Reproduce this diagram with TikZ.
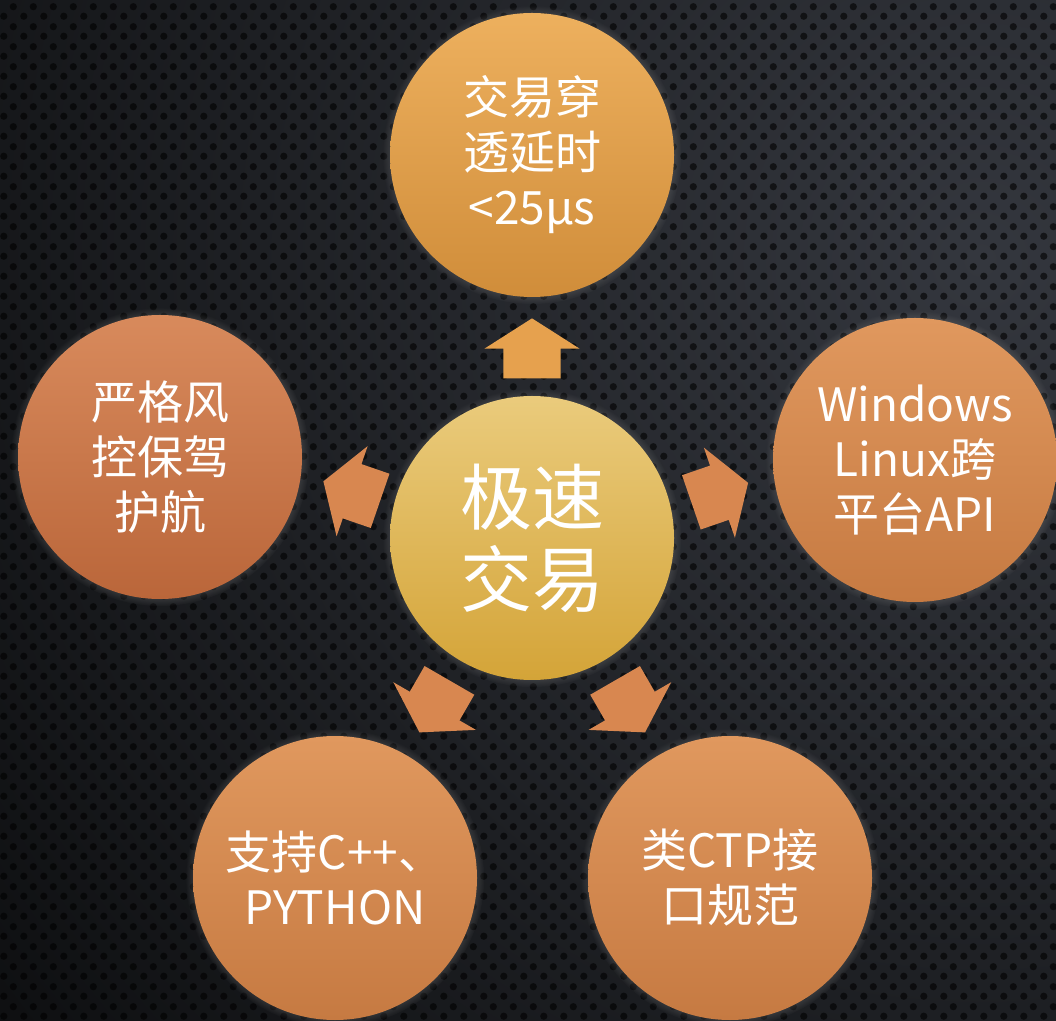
\documentclass[tikz,border=0pt]{standalone}
\usepackage{fontspec}
\usetikzlibrary{shapes.arrows,shadows,calc,patterns}
\newfontfamily\cjk{Noto Sans CJK SC}
\definecolor{bgdark}{RGB}{8,9,10}
\definecolor{bglight}{RGB}{52,55,62}
\definecolor{hubtop}{RGB}{234,203,124}
\definecolor{hubbot}{RGB}{212,164,56}
\definecolor{ambertop}{RGB}{237,176,94}
\definecolor{amberbot}{RGB}{208,141,58}
\definecolor{coraltop}{RGB}{224,152,94}
\definecolor{coralbot}{RGB}{198,122,66}
\definecolor{rusttop}{RGB}{216,138,92}
\definecolor{rustbot}{RGB}{186,102,58}
\definecolor{arrowgold}{RGB}{230,161,78}
\definecolor{arrowcoral}{RGB}{216,135,80}
\pgfdeclarepatternformonly{perforated}{\pgfqpoint{0pt}{0pt}}{\pgfqpoint{20pt}{20pt}}{\pgfqpoint{20pt}{20pt}}{%
  \pgfpathcircle{\pgfqpoint{5pt}{5pt}}{3.8pt}%
  \pgfpathcircle{\pgfqpoint{15pt}{15pt}}{3.8pt}%
  \pgfusepath{fill}}
\tikzset{bubble/.style={circle,minimum size=284pt,inner sep=0pt,align=center,text=white,
    font=\cjk\fontsize{46}{55}\selectfont,
    circular drop shadow={shadow xshift=0pt,shadow yshift=0pt,shadow scale=1.05,opacity=.7}},
  hubbubble/.style={bubble,top color=hubtop,bottom color=hubbot,font=\cjk\fontsize{72}{82}\selectfont},
  pointer/.style={single arrow,minimum height=60pt,inner xsep=0pt,inner ysep=28.5pt,
    single arrow head extend=19pt,single arrow tip angle=115}}

\begin{document}
\begin{tikzpicture}[x=1pt,y=1pt]
\fill[bgdark] (0,0) rectangle (1056,1020);
\begin{scope}
\clip (0,0) rectangle (1056,1020);
\shade[inner color=bglight,outer color=bgdark] (980,760) circle (1450);
\end{scope}
\fill[pattern=perforated,pattern color=black,fill opacity=.6] (0,0) rectangle (1056,1020);
\useasboundingbox (0,0) rectangle (1056,1020);

\node[hubbubble] (hub) at (532,482) {极速\\交易};
\node[bubble,top color=ambertop,bottom color=amberbot] (latency) at (532,865) {交易穿\\透延时\\<25μs};
\node[bubble,top color=coraltop,bottom color=coralbot] (crossplat) at (915,560) {Windows\\Linux跨\\平台API};
\node[bubble,top color=rusttop,bottom color=rustbot] (risk) at (160,563) {严格风\\控保驾\\护航};
\node[bubble,top color=coraltop,bottom color=coralbot] (pylang) at (335,142) {支持C++、\\PYTHON};
\node[bubble,top color=coraltop,bottom color=coralbot] (ctp) at (730,142) {类CTP接\\口规范};

\foreach \t/\a/\dx/\dy/\c in {latency/90/0/0/arrowgold,crossplat/19/-2/7/arrowcoral,
  risk/161/4/7/arrowcoral,pylang/-120/0/0/arrowcoral,ctp/-60/0/0/arrowcoral}
  \node[pointer,fill=\c,rotate=\a] (to\t) at ($($(hub)!.5!(\t)$)+(\dx,\dy)+(\a+180:11)$) {};
\end{tikzpicture}
\end{document}
